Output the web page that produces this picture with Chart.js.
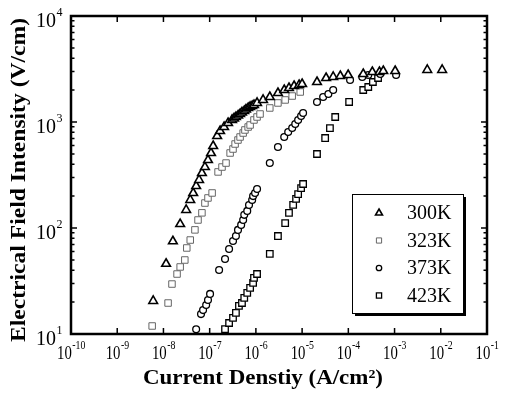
<!DOCTYPE html>
<html>
<head>
<meta charset="utf-8">
<script src="https://cdn.jsdelivr.net/npm/chart.js@4.4.1/dist/chart.umd.min.js"></script>
<style>
html, body { margin: 0; padding: 0; background: #fff; }
#wrap { width: 507px; height: 402px; }
</style>
</head>
<body>
<div id="wrap"><canvas id="chart" width="507" height="402"></canvas></div>
<script>
const seriesNames = ['300K', '323K', '373K', '423K'];

// current density (A/cm^2) and field (V/cm)
const j300 = [6.0e-9, 1.14e-8, 1.6e-8, 2.3e-8, 3.1e-8, 3.8e-8, 4.4e-8, 5.1e-8, 5.9e-8, 6.8e-8, 7.9e-8, 9.2e-8,
  1.07e-7, 1.19e-7, 1.45e-7, 1.68e-7, 2.05e-7, 2.5e-7, 3.05e-7, 3.37e-7, 3.7e-7, 4.12e-7, 4.55e-7, 5.0e-7,
  5.6e-7, 6.1e-7, 6.8e-7, 7.5e-7, 8.3e-7, 9.1e-7, 1.06e-6, 1.43e-6, 2.0e-6, 3.0e-6, 4.1e-6, 5.2e-6, 6.7e-6,
  8.6e-6, 1.0e-5, 2.1e-5, 3.3e-5, 4.7e-5, 6.7e-5, 9.9e-5, 2.1e-4, 3.3e-4, 4.7e-4, 5.7e-4, 1.03e-3, 5.1e-3, 1.07e-2];
const e300 = [20.5, 46, 75, 109, 148, 184, 214, 249, 284, 330, 376, 438,
  510, 594, 738, 822, 897, 979, 1045, 1080, 1115, 1152, 1190, 1230,
  1270, 1312, 1356, 1386, 1416, 1446, 1512, 1614, 1722, 1878, 2004, 2094, 2186,
  2234, 2283, 2385, 2600, 2660, 2717, 2775, 2836, 2963, 2963, 3027, 3027, 3097, 3097];

const j323 = [5.7e-9, 1.26e-8, 1.53e-8, 1.97e-8, 2.3e-8, 2.9e-8, 3.2e-8, 3.8e-8, 4.8e-8, 5.6e-8, 6.8e-8, 7.9e-8,
  9.2e-8, 1.13e-7, 1.52e-7, 1.85e-7, 2.26e-7, 2.77e-7, 3.2e-7, 3.55e-7, 4.1e-7, 4.55e-7, 5.3e-7, 5.8e-7,
  6.8e-7, 7.5e-7, 9.1e-7, 1.06e-6, 1.23e-6, 2.0e-6, 3.0e-6, 4.3e-6, 6.1e-6, 9.1e-6];
const e323 = [11.9, 19.6, 29.6, 36.8, 42.9, 49.9, 64.8, 77, 96, 119, 139, 172,
  192, 214, 338, 376, 410, 510, 556, 620, 676, 722, 787, 841,
  897, 937, 1045, 1115, 1190, 1356, 1512, 1614, 1758, 1919];

const j373 = [5.1e-8, 6.5e-8, 7.2e-8, 8.4e-8, 9.2e-8, 1.02e-7, 1.6e-7, 2.15e-7, 2.63e-7, 3.2e-7, 3.7e-7, 4.1e-7,
  4.8e-7, 5.3e-7, 5.6e-7, 6.5e-7, 7.1e-7, 8.3e-7, 8.7e-7, 9.6e-7, 1.06e-6, 2.0e-6, 3.0e-6, 4.1e-6, 5.0e-6,
  6.1e-6, 7.1e-6, 8.2e-6, 9.5e-6, 1.05e-5, 2.1e-5, 2.85e-5, 3.7e-5, 4.7e-5, 1.09e-4, 2.0e-4, 2.7e-4, 4.9e-4, 1.08e-3];
const e373 = [11.1, 15.4, 16.8, 18.8, 20.9, 23.9, 40.2, 51, 63.4, 75.4, 84, 96,
  107, 119, 133, 145, 165, 184, 200, 214, 233, 410, 581, 722, 805,
  877, 957, 1045, 1140, 1216, 1545, 1722, 1837, 2004, 2490, 2660, 2775, 2836, 2775];

const j423 = [2.15e-7, 2.63e-7, 3.2e-7, 3.7e-7, 4.3e-7, 5.0e-7, 5.6e-7, 6.5e-7, 7.5e-7, 8.7e-7, 9.1e-7, 1.06e-6,
  2.0e-6, 3.0e-6, 4.3e-6, 5.2e-6, 6.4e-6, 7.4e-6, 8.2e-6, 9.5e-6, 1.05e-5,
  2.1e-5, 3.15e-5, 4.0e-5, 5.2e-5, 1.04e-4, 2.1e-4, 2.7e-4, 3.4e-4, 4.4e-4];
const e423 = [11.1, 12.7, 14.2, 15.8, 18.4, 19.6, 21.9, 24.4, 27.2, 30.3, 33.8, 36.8,
  57, 84, 111, 139, 165, 188, 209, 238, 260,
  499, 706, 877, 1115, 1545, 2004, 2138, 2385, 2600];

const xTickExps = [-10, -9, -8, -7, -6, -5, -4, -3, -2, -1];
const yTickExps = [1, 2, 3, 4];

const xTitle = 'Current Denstiy (A/cm²)';
const yTitle = 'Electrical Field Intensity (V/cm)';

function pts(xs, ys) {
  return xs.map((x, i) => ({ x: x, y: ys[i] }));
}

const styles = [
  { pointStyle: 'triangle', radius: 5, color: '#000', width: 1.6 },
  { pointStyle: 'rect', radius: 4.6, color: '#666', width: 1 },
  { pointStyle: 'circle', radius: 3.4, color: '#000', width: 1.3 },
  { pointStyle: 'rect', radius: 4.6, color: '#000', width: 1.3 }
];
const seriesData = [pts(j300, e300), pts(j323, e323), pts(j373, e373), pts(j423, e423)];

const SERIF = '"Liberation Serif", "Times New Roman", serif';

function drawPow(ctx, exp, x, y, align, size, supSize, squeeze) {
  const base = '10';
  const sup = String(exp);
  ctx.save();
  ctx.translate(x, y);
  ctx.scale(squeeze, 1);
  ctx.font = size + 'px ' + SERIF;
  const w1 = ctx.measureText(base).width;
  ctx.font = supSize + 'px ' + SERIF;
  const w2 = ctx.measureText(sup).width;
  const left = align === 'right' ? -w1 - w2 - 1 : -(w1 + w2) / 2;
  ctx.textBaseline = 'middle';
  ctx.textAlign = 'left';
  ctx.font = size + 'px ' + SERIF;
  ctx.fillText(base, left, 0);
  ctx.font = supSize + 'px ' + SERIF;
  ctx.fillText(sup, left + w1 + 0.5, -size * 0.45);
  ctx.restore();
}

// bold title stretched to the length it has in the picture
function fitText(ctx, text, x, y, len, size, angle) {
  ctx.save();
  ctx.font = 'bold ' + size + 'px ' + SERIF;
  const w = ctx.measureText(text).width;
  ctx.translate(x, y);
  ctx.rotate(angle);
  ctx.scale(len / w, 1);
  ctx.textAlign = 'center';
  ctx.textBaseline = 'middle';
  ctx.fillText(text, 0, 0);
  ctx.restore();
}

function marker(ctx, st, x, y) {
  ctx.save();
  ctx.strokeStyle = st.color;
  ctx.fillStyle = '#fff';
  ctx.lineWidth = st.width;
  Chart.helpers.drawPoint(ctx, { pointStyle: st.pointStyle, radius: st.radius * 0.8, rotation: 0, borderWidth: st.width }, x, y);
  ctx.restore();
}

const framePlugin = {
  id: 'frame',
  beforeDatasetsDraw(chart) {
    const ctx = chart.ctx;
    const a = chart.chartArea;
    const xs = chart.scales.x, ys = chart.scales.y;
    ctx.save();
    ctx.strokeStyle = '#000';
    ctx.lineWidth = 1.5;
    ctx.beginPath();
    xTickExps.forEach(e => {
      const px = xs.getPixelForValue(Math.pow(10, e));
      ctx.moveTo(px, a.bottom); ctx.lineTo(px, a.bottom - 6);
      ctx.moveTo(px, a.top); ctx.lineTo(px, a.top + 6);
    });
    for (let d = yTickExps[0]; d < yTickExps[yTickExps.length - 1]; d++) {
      for (let m = 1; m <= 9; m++) {
        const py = ys.getPixelForValue(m * Math.pow(10, d));
        const len = m === 1 ? 6 : 3.5;
        ctx.moveTo(a.left, py); ctx.lineTo(a.left + len, py);
        ctx.moveTo(a.right, py); ctx.lineTo(a.right - len, py);
      }
    }
    ctx.stroke();
    ctx.lineWidth = 2.5;
    ctx.strokeRect(a.left, a.top, a.right - a.left, a.bottom - a.top);
    ctx.restore();
  },
  afterDraw(chart) {
    const ctx = chart.ctx;
    const a = chart.chartArea;
    const xs = chart.scales.x, ys = chart.scales.y;
    ctx.save();
    ctx.fillStyle = '#000';
    xTickExps.forEach(e => {
      drawPow(ctx, e, xs.getPixelForValue(Math.pow(10, e)), a.bottom + 20, 'center', 18, 12, 0.82);
    });
    yTickExps.forEach(e => {
      drawPow(ctx, e, a.left - 8, ys.getPixelForValue(Math.pow(10, e)) + 6, 'right', 20, 12, 1);
    });

    fitText(ctx, xTitle, a.left + 192, a.bottom + 45, 240, 21, 0);
    fitText(ctx, yTitle, 20, 180, 324, 21, -Math.PI / 2);

    // legend box with drop shadow
    const bx = a.right - 135, by = a.bottom - 140, bw = 111, bh = 119;
    ctx.fillStyle = '#000';
    ctx.fillRect(bx + 3, by + 3, bw, bh);
    ctx.fillStyle = '#fff';
    ctx.fillRect(bx, by, bw, bh);
    ctx.strokeStyle = '#000';
    ctx.lineWidth = 1;
    ctx.strokeRect(bx + 0.5, by + 0.5, bw, bh);
    seriesNames.forEach((name, i) => {
      const ry = by + 19 + i * 27.5;
      marker(ctx, styles[i], bx + 27, ry);
      ctx.fillStyle = '#000';
      ctx.font = '20px ' + SERIF;
      ctx.textAlign = 'left';
      ctx.textBaseline = 'middle';
      ctx.fillText(name, bx + 55, ry + 1);
    });
    ctx.restore();
  }
};

new Chart(document.getElementById('chart'), {
  type: 'scatter',
  data: {
    datasets: seriesNames.map((name, i) => ({
      label: name,
      data: seriesData[i],
      pointStyle: styles[i].pointStyle,
      pointRadius: styles[i].radius,
      borderColor: styles[i].color,
      backgroundColor: '#fff',
      pointBorderWidth: styles[i].width,
      showLine: false
    }))
  },
  options: {
    responsive: false,
    animation: false,
    layout: { padding: { top: 16, right: 20, left: 0, bottom: 0 } },
    plugins: { legend: { display: false }, tooltip: { enabled: false } },
    scales: {
      x: {
        type: 'logarithmic', min: 1e-10, max: 1e-1,
        afterBuildTicks: s => { s.ticks = xTickExps.map(e => ({ value: Math.pow(10, e) })); },
        afterFit: s => { s.height = 68; },
        ticks: { display: false },
        grid: { display: false },
        border: { display: false }
      },
      y: {
        type: 'logarithmic', min: 10, max: 1e4,
        afterBuildTicks: s => { s.ticks = yTickExps.map(e => ({ value: Math.pow(10, e) })); },
        afterFit: s => { s.width = 71; },
        ticks: { display: false },
        grid: { display: false },
        border: { display: false }
      }
    }
  },
  plugins: [framePlugin]
});
</script>
</body>
</html>
